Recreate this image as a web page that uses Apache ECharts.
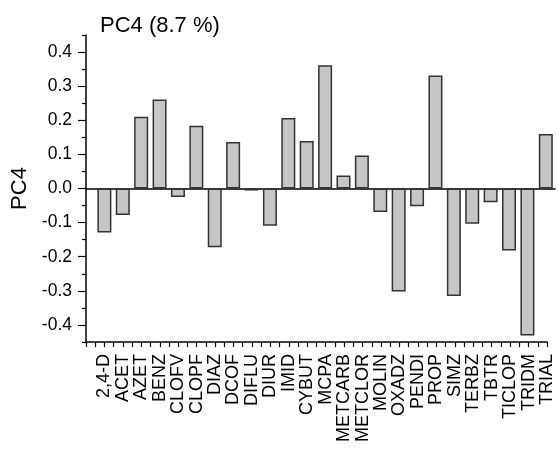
<!DOCTYPE html>
<html><head><meta charset="utf-8">
<script src="https://cdn.jsdelivr.net/npm/echarts@6/dist/echarts.min.js"></script>
<style>html,body{margin:0;padding:0;background:#fff}#c{width:559px;height:449px}</style>
</head><body><div id="c"></div>
<script>
const categories = ['2,4-D','ACET','AZET','BENZ','CLOFV','CLOPF','DIAZ','DCOF','DIFLU','DIUR','IMID','CYBUT','MCPA','METCARB','METCLOR','MOLIN','OXADZ','PENDI','PROP','SIMZ','TERBZ','TBTR','TICLOP','TRIDM','TRIAL'];
const values = [-0.129,-0.078,0.210,0.261,-0.025,0.184,-0.172,0.136,-0.006,-0.109,0.207,0.139,0.361,0.038,0.097,-0.069,-0.302,-0.052,0.331,-0.315,-0.103,-0.040,-0.182,-0.431,0.160];
const yMajorTicks = [-0.4,-0.3,-0.2,-0.1,0.0,0.1,0.2,0.3,0.4];
const yMinorTicks = [-0.45,-0.35,-0.25,-0.15,-0.05,0.05,0.15,0.25,0.35,0.45];
const titleText = 'PC4 (8.7 %)';
const yName = 'PC4';

const font = 'Liberation Sans, Arial, sans-serif';
const chart = echarts.init(document.getElementById('c'), null, {renderer:'canvas'});
const barData = values.map((v,i)=>[i+1, v]);
chart.setOption({
  animation:false,
  title:{text:titleText, left:95, top:10, textStyle:{fontFamily:font, fontSize:22, fontWeight:'normal', color:'#000'}},
  grid:[
    {left:86, right:4, top:35, bottom:107},
    {left:86, right:12, top:35, bottom:107}
  ],
  xAxis:[
    {gridIndex:0, type:'value', min:0, max:25.5, axisLine:{onZero:true, lineStyle:{color:'#000', width:1.5}}, axisTick:{show:false}, axisLabel:{show:false}, splitLine:{show:false}},
    {gridIndex:1, type:'value', min:0, max:25, interval:0.5, position:'bottom',
      axisLine:{onZero:false, lineStyle:{color:'#000', width:1.5}},
      axisTick:{show:true, inside:false, length:5, lineStyle:{color:'#000', width:1.2}},
      axisLabel:{show:true, rotate:90, margin:12, fontFamily:font, fontSize:18, color:'#000', hideOverlap:false, showMinLabel:true, showMaxLabel:true,
        formatter:function(v){ const i=Math.round(v*2); if(i%2!==0) return ''; const k=i/2; return (k>=1&&k<=categories.length)?categories[k-1]:''; }},
      splitLine:{show:false}}
  ],
  yAxis:[
    {gridIndex:0, type:'value', min:-0.45, max:0.45, show:false, splitLine:{show:false}},
    {gridIndex:1, type:'value', min:-0.45, max:0.45,
      name:yName, nameLocation:'middle', nameGap:51, nameRotate:90, nameTextStyle:{fontFamily:font, fontSize:22, color:'#000'},
      axisLine:{show:true, onZero:false, lineStyle:{color:'#000', width:1.5}},
      axisTick:{show:true, length:8, customValues:yMajorTicks, lineStyle:{color:'#000', width:1.2}},
      axisLabel:{show:true, margin:14, customValues:yMajorTicks, fontFamily:font, fontSize:17.5, color:'#000', formatter:function(v){return v.toFixed(1);}},
      splitLine:{show:false}},
    {gridIndex:1, type:'value', min:-0.45, max:0.45,
      axisLine:{show:false}, axisTick:{show:true, length:4, customValues:yMinorTicks, lineStyle:{color:'#000', width:1.2}},
      axisLabel:{show:false}, splitLine:{show:false}, position:'left'}
  ],
  series:[{
    type:'bar', xAxisIndex:0, yAxisIndex:0, data:barData, barWidth:14,
    itemStyle:{color:'#c6c6c6', borderColor:'#333', borderWidth:1.5},
    z:1
  }]
});
</script></body></html>
